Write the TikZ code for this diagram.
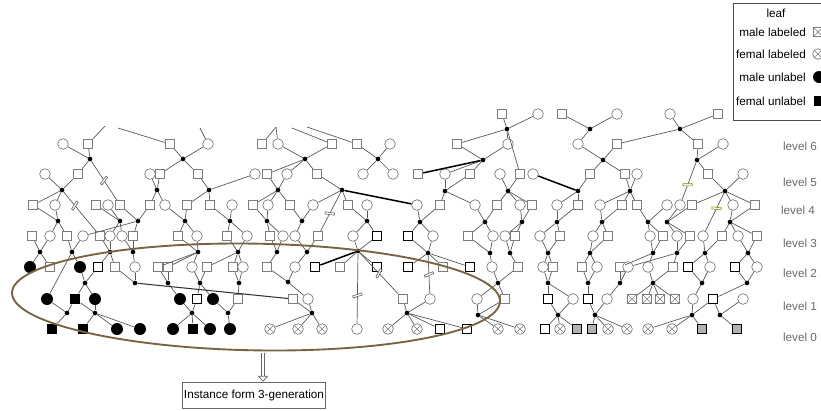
\documentclass[tikz,border=0pt]{standalone}
\usepackage{fontspec}
\setmainfont{Liberation Sans}
\usetikzlibrary{arrows.meta, shapes.geometric}
\definecolor{ped_line}{RGB}{90, 90, 90}
\definecolor{ped_node}{RGB}{125, 125, 125}
\definecolor{ped_ring}{RGB}{120, 100, 66}
\definecolor{ped_text}{RGB}{105, 105, 105}

\begin{document}
\begin{tikzpicture}[
        x=0.03cm, y=-0.03cm,
        every node/.style={font=\fontsize{10}{12}\selectfont},
        sq/.style={draw=ped_node, fill=white, line width=0.6pt, minimum size=0.29cm, inner sep=0pt},
        ci/.style={sq, circle, minimum size=0.32cm},
        bsq/.style={sq, draw=black, line width=1.2pt, minimum size=0.28cm},
        bxs/.style={bsq, fill=black!30},
        fci/.style={circle, fill=black, minimum size=0.36cm, inner sep=0pt},
        fsq/.style={fill=black, minimum size=0.32cm, inner sep=0pt},
        xmark/.style={path picture={\draw[ped_node, line width=0.5pt]
            (path picture bounding box.north west) -- (path picture bounding box.south east)
            (path picture bounding box.north east) -- (path picture bounding box.south west);}},
        xci/.style={ci, xmark},
        xsq/.style={sq, xmark},
        dt/.style={circle, fill=black, minimum size=0.14cm, inner sep=0pt},
        ln/.style={draw=ped_line, line width=0.6pt},
        tk/.style={draw=black, line width=1.3pt},
        brk/.style={draw=ped_line, fill=white, sloped, rotate=20, inner sep=0pt, minimum width=1.8pt, minimum height=8pt, line width=0.5pt},
        lvl/.style={text=ped_text},
        ell/.style={ellipse, draw=ped_ring, line width=1.6pt, minimum width=14.64cm, minimum height=3.2cm, rotate=-1},
        ibox/.style={draw=black!60, line width=0.6pt, minimum width=4.3cm, minimum height=0.78cm, inner sep=1pt},
        hollow/.style={draw=black!60, double=white, double distance=2.2pt, line width=0.6pt, -{Triangle[open, length=5pt, width=9pt]}}
    ]
    \useasboundingbox (0,0) rectangle (821,410);

    % persons
    \foreach \n/\x/\y in {z1/502/114, z3/562/114, z6/718/114,
        a2/88/144, a3/170/144, a5/262/144, a7/332/144, a8/357/144, a10/457/144, a13/617/144, a14/698/144,
        b2/78/174, b4/160/174, b5/198/174, b7/267/174, b9/317/174, b12/418/174, b14/470/174, b16/520/174, b18/590/174, b19/625/174, b21/708/174,
        c1/33/205, c3/96/205, c5/120/205, c6/150/205, c8/187/205, c9/210/205, c11/253/205, c13/290/205, c14/348/205, c17/440/205, c18/497/205, c20/532/205, c22/578/205, c24/622/205, c25/637/205, c28/692/205, c30/755/205,
        e1/32/236, e3/67/236, e5/100/236, e8/133/236, e9/178/236, e11/227/236, e13/270/236, e16/318/236, e21/468/236, e24/515/236, e26/560/236, e28/608/236, e30/663/236, e32/690/236, e34/722/236, e36/757/236,
        g2/50/267, g5/115/267, g7/158/267, g8/168/267, g10/207/267, g11/233/267, g13/267/267, g15/340/267, g18/443/267, g21/518/267, g23/553/267, g24/582/267, g26/620/267, g29/673/267,
        h7/238/299, h8/293/299, h10/403/299, h13/505/299}
        \node[sq] (\n) at (\x,\y) {};
    \foreach \n/\x/\y in {z2/538/114, z4/617/114, z5/670/114,
        a1/63/144, a4/208/144, a6/278/144, a9/390/144, a11/508/144, a12/578/144, a15/723/144,
        b1/45/174, b3/150/174, b6/255/174, b8/287/174, b10/363/174, b11/393/174, b13/445/174, b15/500/174, b17/533/174, b20/637/174, b22/743/174,
        c2/55/205, c4/108/205, c7/165/205, c10/232/205, c12/268/205, c13b/313/205, c15/367/205, c16/417/205, c17b/475/205, c19/520/205, c21/557/205, c23/600/205, c26/667/205, c27/680/205, c29/733/205,
        e2/50/236, e4/83/236, e6/110/236, e7/122/236, e10/197/236, e12/247/236, e14/283/236, e15/295/236, e17/353/236, e20/433/236, e22/493/236, e23/505/236, e25/540/236, e27/593/236, e29/650/236, e31/677/236, e33/703/236, e35/738/236,
        g6/135/267, g9/192/267, g12/243/267, g13b/295/267, g20/492/267, g22/543/267, g25/597/267, g27/628/267, g28/648/267, g31/710/267, g33/757/267,
        h9/308/299, h11/430/299, h12/477/299, h15/573/299, h17/607/299, h22/693/299, h24/743/299,
        k12/357/329}
        \node[ci] (\n) at (\x,\y) {};
    \foreach \n/\x/\y in {e18/377/236, e19/408/236, g4/98/267, g14/315/267, g16/377/267, g17/408/267, g19/470/267, g30/688/267, g32/735/267,
        h5/197/299, h14/548/299, h16/588/299, h23/713/299, k15/440/329, k16/467/329, k19/545/329}
        \node[bsq] (\n) at (\x,\y) {};
    \foreach \n/\x/\y in {k21/577/329, k22/592/329, k27/702/329, k28/737/329}
        \node[bxs] (\n) at (\x,\y) {};
    \foreach \n/\x/\y in {g1/30/267, g3/80/267, h1/47/299, h3/95/299, h4/180/299, h6/213/299, k3/117/329, k4/140/329, k5/173/329, k7/210/329, k8/230/329}
        \node[fci] (\n) at (\x,\y) {};
    \foreach \n/\x/\y in {h2/75/299, k1/52/329, k2/83/329, k6/193/329}
        \node[fsq] (\n) at (\x,\y) {};
    \foreach \n/\x/\y in {k9/270/329, k10/298/329, k11/322/329, k13/388/329, k14/417/329, k17/498/329, k18/520/329, k20/560/329, k23/608/329, k24/627/329, k25/648/329, k26/672/329}
        \node[xci] (\n) at (\x,\y) {};
    \foreach \n/\x/\y in {h18/632/299, h19/647/299, h20/660/299, h21/675/299}
        \node[xsq] (\n) at (\x,\y) {};

    % mating dots
    \foreach \n/\x/\y in {p1/507/129, p2/590/129, p3/680/129,
        q1/90/159, q2/183/159, q3/305/159, q4/378/159, q5/483/160, q6/603/160, q7/697/160,
        r1/62/190, r2/157/190, r3/209/190, r4/278/190, r5/342/190, r6/445/191, r7/508/191, r8/578/191, r9/630/191, r10/725/191,
        t1/58/221, t2/120/221, t3/138/221, t4/185/221, t5/230/221, t6/267/221, t7/302/221, t8/367/221, t9/420/222, t10/485/222, t11/522/222, t12/557/222, t13/602/222, t14/648/222, t15/667/222, t16/730/222,
        u1/40/252, u2/72/252, u3/110/252, u4/133/252, u5/198/252, u6/238/252, u7/277/252, u7b/307/252, u8/358/251, u9/428/253, u10/490/253, u11/510/253, u12/548/253, u13/590/253, u14/653/253, u15/677/253, u16/705/253, u17/748/253,
        v1/85/283, v2/135/283, v3/168/283, v4/200/283, v5/239/283, v6/288/282, v7/498/283, v8/548/283, v9/588/283, v10/620/283, v11/653/283, v12/702/283, v13/747/283,
        w1/67/313, w2/95/313, w3/192/313, w4/228/313, w5/312/313, w6/407/313, w7/478/315, w8/558/315, w9/595/315, w10/692/315, w11/720/315}
        \node[dt] (\n) at (\x,\y) {};

    % lines cut by the top of the picture
    \foreach \n/\x/\y in {n1/105/126, n2/118/128, n3/200/128, n4/276/127, n5/292/128, n6/307/127}
        \coordinate (\n) at (\x,\y);

    \foreach \a/\b in {a2/n1, a3/n2, a4/n3, a5/n4, a6/n4, a7/n5, a8/n6,
        z1/p1, z2/p1, p1/a10, p1/a11, p1/b16, z3/p2, z4/p2, p2/a12, z5/p3, z6/p3, p3/a13, p3/a14,
        a1/q1, a2/q1, q1/b2, a3/q2, a4/q2, q2/b4, q2/b5, a6/q3, a7/q3, q3/b7, q3/b8, q3/b9,
        a8/q4, a9/q4, q4/b10, q4/b11, a10/q5, a11/q5, q5/b13, q5/b14, a12/q6, a13/q6, q6/b18, q6/b19,
        a14/q7, a15/q7, q7/b21,
        b1/r1, b2/r1, r1/c1, r1/c2, b3/r2, b4/r2, r2/c6, r2/c7, b5/r3, b6/r3, r3/c8, r3/c9,
        b7/r4, b8/r4, r4/c11, r4/c12, r4/c13, b9/r5, r5/c13b, r5/c14, b13/r6, b14/r6, r6/c17, r6/c17b,
        b15/r7, b16/r7, r7/c18, r7/c19, r7/c20, b18/r8, r8/c21, r8/c22, b19/r9, b20/r9, r9/c23, r9/c24, r9/c25,
        b21/r10, b22/r10, r10/c28, r10/c29, r10/c30,
        c1/t1, c2/t1, t1/e2, t1/e3, c3/t2, c4/t2, t2/e6, t2/e7, c5/t3, c6/t3, t3/e4, t3/e8,
        c7/t4, c8/t4, t4/e9, t4/e10, c9/t5, c10/t5, t5/e11, t5/e12, c11/t6, c12/t6, t6/e13, t6/e14,
        c13/t7, c13b/t7, t7/e15, c14/t8, c15/t8, t8/e17, t8/e18, c16/t9, c17/t9, t9/e19, t9/e20,
        c17b/t10, c18/t10, t10/e21, t10/e22, c19/t11, c20/t11, t11/e23, t11/e24, c21/t12, c22/t12, t12/e25, t12/e26,
        c23/t13, c24/t13, t13/e27, t13/e28, c25/t14, c26/t14, t14/e29, t14/e30, c27/t15, c28/t15, t15/e31, t15/e32,
        c29/t16, c30/t16, t16/e34, t16/e35, t16/e36,
        e1/u1, e2/u1, u1/g1, u1/g2, e3/u2, e4/u2, u2/g3, u2/h1, e5/u3, e6/u3, u3/g4, u3/g5, e7/u4, e8/u4, u4/g6,
        e9/u5, e10/u5, u5/g7, u5/g8, u5/g9, e11/u6, e12/u6, u6/g10, u6/g11, u6/g12, e13/u7, e14/u7, u7/g13,
        e15/u7b, e16/u7b, u7b/g13b, e17/u8, e18/u8, u8/g15, u8/g16, e19/u9, e20/u9, u9/g17, u9/g18, u9/g19,
        e21/u10, e22/u10, u10/g20, e23/u11, e24/u11, u11/g21, e25/u12, e26/u12, u12/g22, u12/g23,
        e27/u13, e28/u13, u13/g24, u13/g25, e29/u14, e30/u14, u14/g26, u14/g28, e31/u15, e32/u15, u15/g27, u15/g29,
        e33/u16, e34/u16, u16/g30, u16/g31, e35/u17, e36/u17, u17/g32, u17/g33,
        g3/v1, g4/v1, v1/h2, v1/h3, g5/v2, g6/v2, g7/v3, g8/v3, v3/h4, g9/v4, g10/v4, v4/h5, v4/h6,
        g11/v5, g12/v5, v5/h7, g13/v6, g13b/v6, v6/h9, g20/v7, g21/v7, v7/h12, v7/h13,
        g22/v8, g23/v8, v8/h14, v8/h15, g24/v9, g25/v9, v9/h16, g26/v10, g27/v10, v10/h17,
        g28/v11, g29/v11, v11/h18, v11/h19, v11/h20, v11/h21, g30/v12, g31/v12, v12/h22, g32/v13, g33/v13, v13/h23,
        h1/w1, h2/w1, w1/k1, h2/w2, h3/w2, w2/k2, w2/k3, w2/k4, h4/w3, h5/w3, w3/k5, w3/k6, w3/k7,
        h6/w4, h7/w4, w4/k8, h8/w5, h9/w5, w5/k9, w5/k10, w5/k11, h10/w6, h11/w6, w6/k13, w6/k14, w6/k15, w6/k16,
        h12/w7, h13/w7, w7/k17, w7/k18, h14/w8, h15/w8, w8/k19, w8/k20, w8/k21,
        h16/w9, h17/w9, w9/k22, w9/k23, w9/k24, h22/w10, h23/w10, w10/k25, w10/k26, w10/k27, h23/w11, h24/w11, w11/k28}
        \draw[ln] (\a) -- (\b);

    % heavy links
    \draw[tk] (b12) -- (q5);
    \draw[tk] (r5) -- (c16);
    \draw[tk] (b17) -- (r8);
    \draw[tk] (u8) -- (g14);
    \draw[ln, line width=0.9pt, draw=black!80] (v2) -- (h8);
    % long links with break marks
    \draw[ln] (q1) -- node[brk, pos=0.5] {} (c5);
    \draw[ln] (r1) -- node[brk, pos=0.35] {} (e5);
    \draw[ln] (r5) -- node[brk, pos=0.55] {} (e16);
    \draw[ln] (q7) -- node[brk, pos=0.6, draw=olive] {} (c27);
    \draw[ln] (r10) -- node[brk, pos=0.4, draw=olive] {} (e33);
    \draw[ln] (u8) -- node[brk, pos=0.6] {} (k12);
    \draw[ln] (u8) -- node[brk, pos=0.5] {} (h10);
    \draw[ln] (u9) -- node[brk, pos=0.5] {} (h11);

    % 3-generation instance
    \node[ell] (grp) at (256,297) {};
    \node[ibox] (inst) at (254,395) {Instance form 3-generation};
    \coordinate (atop) at (263,353);
    \draw[hollow] (atop) -- (atop |- inst.north);

    % levels
    \node[lvl] (lv6) at (800,146) {level 6};
    \node[lvl] (lv5) at (800,182) {level 5};
    \node[lvl] (lv4) at (798,210) {level 4};
    \node[lvl] (lv3) at (800,243) {level 3};
    \node[lvl] (lv2) at (800,273) {level 2};
    \node[lvl] (lv1) at (800,306) {level 1};
    \node[lvl] (lv0) at (800,337) {level 0};

    % legend
    \draw[black!70, line width=0.8pt] (733,3) rectangle (832,120);
    \node (leaf) at (776,13) {leaf};
    \node[anchor=east] (lgml) at (810,32) {male labeled};
    \node[anchor=east] (lgfl) at (810,54) {femal labeled};
    \node[anchor=east] (lgmu) at (810,77) {male unlabel};
    \node[anchor=east] (lgfu) at (810,101) {femal unlabel};
    \node[xsq] (sml) at (818,32) {};
    \node[xci] (sfl) at (818,54) {};
    \node[fci] (smu) at (819,77) {};
    \node[fsq] (sfu) at (819,101) {};
\end{tikzpicture}
\end{document}
